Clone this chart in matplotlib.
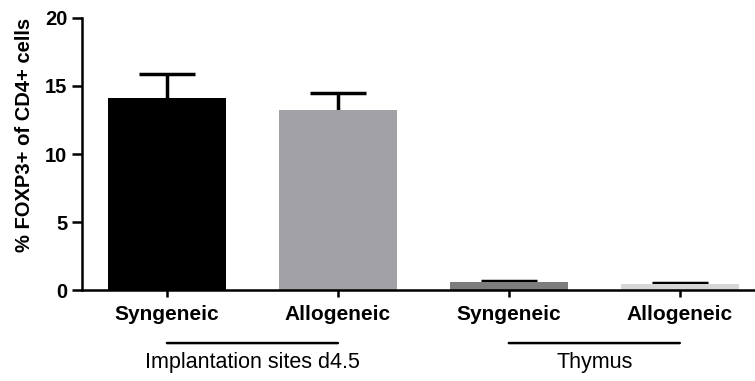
import matplotlib.pyplot as plt

plt.rcParams["font.family"] = ["Liberation Sans", "DejaVu Sans"]

labels = ["Syngeneic", "Allogeneic", "Syngeneic", "Allogeneic"]
means = [14.15, 13.2, 0.57, 0.43]
sems = [1.7, 1.3, 0.1, 0.06]
colors = ["#000000", "#a2a2a6", "#7d7d7d", "#d6d6d6"]
groups = ["Implantation sites d4.5", "Thymus"]
yticks = [0, 5, 10, 15, 20]

fig = plt.figure(figsize=(7.55, 3.81), dpi=100)
ax = fig.add_axes([0.1086, 0.2388, 0.8914, 0.714])

x = list(range(len(means)))
# symmetric error bars drawn behind the bars, so only the upper half shows
ax.errorbar(x, means, yerr=sems, fmt="none", ecolor="black",
            elinewidth=2.5, capsize=20, capthick=2.5, zorder=1)
ax.bar(x, means, width=0.69, color=colors, zorder=2)

ax.set_ylim(0, 20)
ax.set_xlim(-0.497, 3.44)
ax.set_yticks(yticks)
ax.set_xticks(x)
ax.set_xticklabels(labels, fontsize=15, fontweight="bold")
ax.tick_params(axis="y", labelsize=14.5, width=1.8, length=7, direction="out")
ax.tick_params(axis="x", width=1.8, length=5, direction="out", pad=6)
for t in ax.get_yticklabels():
    t.set_fontweight("bold")
ax.set_ylabel("% FOXP3+ of CD4+ cells", fontsize=14.5, fontweight="bold")
ax.yaxis.set_label_coords(-0.072, 0.57)

for side in ["top", "right"]:
    ax.spines[side].set_visible(False)
for side in ["left", "bottom"]:
    ax.spines[side].set_linewidth(1.8)

# group brackets under the tick labels
for i, g in enumerate(groups):
    x0, x1 = 2 * i, 2 * i + 1
    ax.annotate("", xy=(x0, -0.195), xytext=(x1, -0.195), xycoords=("data", "axes fraction"),
                arrowprops=dict(arrowstyle="-", lw=1.8, color="black", shrinkA=0, shrinkB=0),
                annotation_clip=False)
    ax.text((x0 + x1) / 2, -0.265, g, transform=ax.get_xaxis_transform(),
            ha="center", va="center", fontsize=15.5)

fig.savefig("out.png", dpi=100)
